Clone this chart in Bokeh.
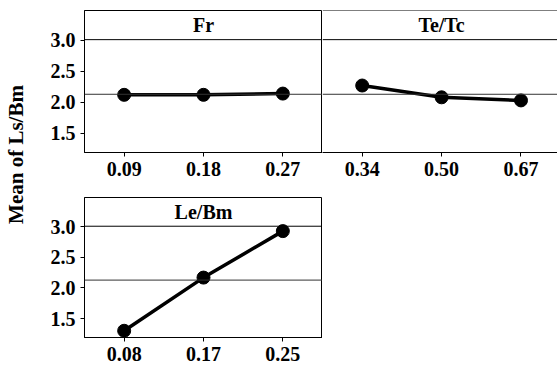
import numpy as np
from bokeh.plotting import figure
from bokeh.layouts import row, column
from bokeh.models import FixedTicker, Span, Label, NumeralTickFormatter
from bokeh.embed import file_html
from bokeh.resources import INLINE

# ---- data ----
fr_levels = ["0.09", "0.18", "0.27"]
fr_means = [2.12, 2.12, 2.14]
te_levels = ["0.34", "0.50", "0.67"]
te_means = [2.27, 2.08, 2.03]
le_levels = ["0.08", "0.17", "0.25"]
le_means = [1.30, 2.17, 2.93]
y_ticks = [1.5, 2.0, 2.5, 3.0]
y_label = "Mean of Ls/Bm"
titles = ["Fr", "Te/Tc", "Le/Bm"]

FONT = "Liberation Serif"
grand_mean = float(np.mean(fr_means + te_means + le_means))

Y0, Y1 = 1.19, 3.48
HEADER = 3.01


def panel(title, levels, means, width, height, x_end, show_y, bl, bt, bb, outline=True):
    p = figure(width=width, height=height, x_range=(-0.5, x_end), y_range=(Y0, Y1),
               output_backend="svg", toolbar_location=None,
               y_axis_location="left" if show_y else None,
               min_border_left=bl, min_border_right=0,
               min_border_top=bt, min_border_bottom=bb)
    p.grid.visible = False
    p.background_fill_color = "white"
    p.border_fill_color = "white"
    p.outline_line_color = "black" if outline else None
    p.outline_line_width = 1

    xa = p.xaxis[0]
    xa.ticker = FixedTicker(ticks=list(range(len(levels))))
    xa.major_label_overrides = {i: lab for i, lab in enumerate(levels)}
    xa.minor_tick_line_color = None
    xa.major_tick_out = 4
    xa.major_tick_in = 0
    xa.major_label_standoff = 5
    xa.axis_line_color = "black"
    xa.major_tick_line_color = "black"
    xa.major_label_text_font = FONT
    xa.major_label_text_font_style = "bold"
    xa.major_label_text_font_size = "20px"
    xa.major_label_text_color = "black"

    if show_y:
        ya = p.yaxis[0]
        ya.ticker = FixedTicker(ticks=y_ticks)
        ya.formatter = NumeralTickFormatter(format="0.0")
        ya.minor_tick_line_color = None
        ya.major_tick_out = 4
        ya.major_tick_in = 0
        ya.major_label_standoff = 5
        ya.axis_line_color = "black"
        ya.major_tick_line_color = "black"
        ya.major_label_text_font = FONT
        ya.major_label_text_font_style = "bold"
        ya.major_label_text_font_size = "20px"
        ya.major_label_text_color = "black"

    p.add_layout(Span(location=grand_mean, dimension="width",
                      line_color="#333333", line_width=1))
    p.add_layout(Span(location=HEADER, dimension="width",
                      line_color="black", line_width=1))
    p.add_layout(Label(x=1, y=(HEADER + Y1) / 2, text=title,
                       text_align="center", text_baseline="middle",
                       text_font=FONT, text_font_style="bold",
                       text_font_size="20px", text_color="black"))

    xs = list(range(len(means)))
    p.line(xs, means, line_color="black", line_width=3.5)
    p.scatter(xs, means, size=13, fill_color="black", line_color="black")
    return p


p_fr = panel(titles[0], fr_levels, fr_means, 286, 185, 2.5, True, 48, 10, 33)
p_te = panel(titles[1], te_levels, te_means, 235, 185, 2.46, False, 0, 10, 33, outline=False)
p_te.add_layout(Span(location=Y1, dimension="width", line_color="black", line_width=1))
p_le = panel(titles[2], le_levels, le_means, 286, 184, 2.5, True, 48, 12, 32)

lab = figure(width=36, height=369, x_range=(0, 36), y_range=(0, 369),
             output_backend="svg", toolbar_location=None,
             x_axis_location=None, y_axis_location=None,
             min_border_left=0, min_border_right=0, min_border_top=0, min_border_bottom=0)
lab.grid.visible = False
lab.outline_line_color = None
lab.add_layout(Label(x=15, y=369 - 154, text=y_label, angle=np.pi / 2,
                     text_align="center", text_baseline="middle",
                     text_font=FONT, text_font_style="bold",
                     text_font_size="21px", text_color="black"))

layout = row(lab, column(row(p_fr, p_te), p_le))

open("out.html", "w").write(file_html(layout, INLINE))
